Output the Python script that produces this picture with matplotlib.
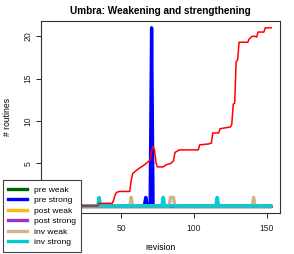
import numpy as np
import matplotlib
matplotlib.use("Agg")
from matplotlib import pyplot as plt
from matplotlib.lines import Line2D

plt.rcParams['font.family'] = ['Liberation Sans', 'DejaVu Sans']

n_rev = 153
revisions = np.arange(1, n_rev + 1)

# red line, read at its corners
red_rev = [1, 22, 23, 34, 35, 44, 45, 46, 47, 49, 56, 57, 58, 60, 63, 65, 68, 70,
           71, 72, 73, 74, 75, 79, 81, 84, 86, 87, 90, 103, 104, 110, 112, 113,
           117, 118, 125, 126, 127, 128, 129, 130, 131, 137, 138, 140, 142, 143,
           144, 148, 149, 153]
red_val = [1.3, 1.3, 0, 0, 0.3, 0.3, 0.7, 1.3, 1.6, 1.7, 1.7, 3.0, 3.8, 4.1, 4.5,
           4.7, 5.1, 5.4, 6.5, 7.0, 6.6, 5.1, 4.6, 4.6, 4.85, 5.0, 5.3, 6.3, 6.6,
           6.6, 7.2, 7.3, 7.4, 8.6, 8.6, 9.1, 9.3, 9.6, 12.0, 12.1, 17.0, 17.2,
           19.3, 19.3, 19.7, 20.0, 20.0, 19.9, 20.5, 20.5, 21.0, 21.0]

# spikes: revision -> count (all other revisions are 0)
pre_weak = {}
pre_strong = {67: 1, 71: 21}
post_weak = {}
post_strong = {}
inv_weak = {57: 1, 84: 1, 85: 1, 86: 1, 141: 1}
inv_strong = {35: 1, 79: 1, 116: 1}

labels = ["pre weak", "pre strong", "post weak", "post strong", "inv weak", "inv strong"]
colors = ["#006400", "#0000FF", "#FFB90F", "#9932CC", "#D2B48C", "#00CED1"]
series = [pre_weak, pre_strong, post_weak, post_strong, inv_weak, inv_strong]

xticks = [0, 50, 100, 150]
yticks = [0, 5, 10, 15, 20]

fig = plt.figure(figsize=(2.94, 2.54), dpi=100)
ax = fig.add_axes([40.7 / 294, 1 - 213 / 254, 239.3 / 294, 192.3 / 254])

for s, c in zip(series, colors):
    y = np.zeros(n_rev)
    for r, v in s.items():
        y[r - 1] = v
    ax.plot(revisions, y, color=c, lw=2.4, solid_capstyle='round', solid_joinstyle='round')

ax.plot(red_rev, red_val, color="#FF0000", lw=1.1)

ax.set_xlim(-5.08, 159.08)
ax.set_ylim(-0.84, 21.84)
# the 0 labels sit under the legend in the original, so leave them blank
ax.set_xticks(xticks, ["" if t == 0 else str(t) for t in xticks])
ax.set_yticks(yticks, ["" if t == 0 else str(t) for t in yticks])
ax.tick_params(length=3.6, width=0.7, labelsize=6.2, colors="#222222")
ax.tick_params(axis='x', pad=4.5)
ax.tick_params(axis='y', labelrotation=90, pad=2.5)
for lab in ax.get_yticklabels():
    lab.set_va('center')
for sp in ax.spines.values():
    sp.set_linewidth(0.8)
    sp.set_color("#333333")

fig.text(160.4 / 294, 1 - 11 / 254, "Umbra: Weakening and strengthening",
         ha='center', va='center', fontsize=7.2, fontweight='bold')
fig.text(160.4 / 294, 1 - 248 / 254, "revision", ha='center', va='center', fontsize=6.2)
fig.text(7 / 294, 1 - 117 / 254, "# routines", ha='center', va='center',
         rotation=90, fontsize=6.2)

handles = [Line2D([], [], color=c, lw=2.4) for c in colors]
leg = fig.legend(handles, labels, loc='lower left', bbox_to_anchor=(2.7 / 294, 2.3 / 254),
                 bbox_transform=fig.transFigure, borderaxespad=0, fontsize=6.1,
                 handlelength=2.2, handletextpad=0.8, labelspacing=0.3,
                 borderpad=0.65, fancybox=False, framealpha=1)
leg.get_frame().set_edgecolor("#444444")
leg.get_frame().set_linewidth(0.8)

fig.savefig("out.png", dpi=100)
